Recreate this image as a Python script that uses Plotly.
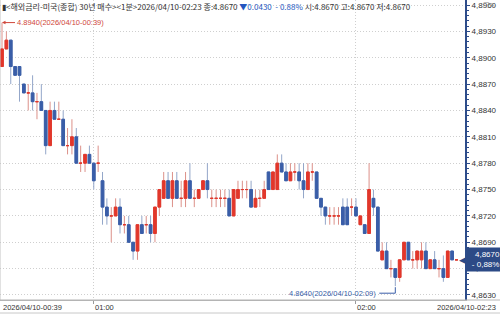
import pandas as pd
import numpy as np
import plotly.graph_objects as go

# ---------------- data ----------------
opens = [4.889, 4.891, 4.892, 4.889, 4.889, 4.887, 4.886, 4.886, 4.885, 4.885,
         4.884, 4.880, 4.884, 4.883, 4.883, 4.880, 4.880, 4.881, 4.878, 4.878,
         4.879, 4.878, 4.878, 4.876, 4.873, 4.872, 4.872, 4.873, 4.871, 4.871,
         4.869, 4.868, 4.871, 4.871, 4.871, 4.870, 4.873, 4.874, 4.876, 4.874,
         4.876, 4.874, 4.874, 4.876, 4.874, 4.874, 4.875, 4.876, 4.874, 4.874,
         4.874, 4.874, 4.874, 4.872, 4.874, 4.875, 4.875, 4.875, 4.873, 4.874,
         4.874, 4.877, 4.875, 4.875, 4.878, 4.877, 4.876, 4.877, 4.877, 4.876,
         4.875, 4.877, 4.877, 4.874, 4.873, 4.872, 4.872, 4.872, 4.873, 4.873,
         4.873, 4.873, 4.871, 4.871, 4.870, 4.874, 4.873, 4.867, 4.868, 4.866,
         4.866, 4.865, 4.867, 4.869, 4.867, 4.867, 4.867, 4.868, 4.866, 4.867,
         4.866, 4.866, 4.865, 4.868, 4.867]
highs = [4.894, 4.893, 4.892, 4.889, 4.889, 4.887, 4.887, 4.888, 4.886, 4.887,
         4.884, 4.885, 4.885, 4.885, 4.884, 4.882, 4.883, 4.882, 4.880, 4.879,
         4.880, 4.878, 4.880, 4.877, 4.874, 4.873, 4.874, 4.874, 4.872, 4.872,
         4.869, 4.871, 4.872, 4.872, 4.872, 4.873, 4.875, 4.877, 4.877, 4.877,
         4.877, 4.876, 4.877, 4.878, 4.875, 4.875, 4.876, 4.878, 4.875, 4.875,
         4.875, 4.875, 4.875, 4.875, 4.876, 4.876, 4.876, 4.876, 4.875, 4.875,
         4.876, 4.877, 4.877, 4.879, 4.879, 4.878, 4.878, 4.878, 4.878, 4.878,
         4.878, 4.878, 4.877, 4.874, 4.873, 4.873, 4.873, 4.873, 4.874, 4.874,
         4.874, 4.874, 4.872, 4.871, 4.878, 4.875, 4.873, 4.869, 4.869, 4.867,
         4.866, 4.867, 4.869, 4.869, 4.868, 4.868, 4.869, 4.869, 4.867, 4.868,
         4.867, 4.8675, 4.868, 4.868, 4.867]
lows = [4.889, 4.891, 4.887, 4.888, 4.885, 4.886, 4.884, 4.884, 4.883, 4.884,
        4.879, 4.880, 4.883, 4.883, 4.880, 4.879, 4.879, 4.878, 4.877, 4.877,
        4.878, 4.875, 4.877, 4.871, 4.871, 4.869, 4.872, 4.870, 4.870, 4.869,
        4.867, 4.867, 4.870, 4.870, 4.869, 4.869, 4.872, 4.874, 4.874, 4.873,
        4.874, 4.873, 4.873, 4.874, 4.873, 4.874, 4.875, 4.874, 4.873, 4.873,
        4.873, 4.873, 4.872, 4.872, 4.874, 4.874, 4.874, 4.873, 4.873, 4.873,
        4.874, 4.875, 4.875, 4.875, 4.877, 4.876, 4.876, 4.876, 4.875, 4.874,
        4.875, 4.876, 4.874, 4.872, 4.871, 4.871, 4.871, 4.871, 4.871, 4.871,
        4.872, 4.872, 4.871, 4.870, 4.870, 4.872, 4.868, 4.867, 4.866, 4.865,
        4.864, 4.8645, 4.867, 4.867, 4.866, 4.866, 4.866, 4.866, 4.866, 4.866,
        4.865, 4.8645, 4.865, 4.867, 4.867]
closes = [4.891, 4.892, 4.889, 4.888, 4.888, 4.886, 4.886, 4.885, 4.885, 4.884,
          4.880, 4.884, 4.883, 4.883, 4.880, 4.880, 4.881, 4.878, 4.878, 4.879,
          4.878, 4.876, 4.878, 4.873, 4.872, 4.872, 4.873, 4.871, 4.871, 4.869,
          4.868, 4.871, 4.870, 4.871, 4.870, 4.873, 4.875, 4.876, 4.874, 4.876,
          4.874, 4.874, 4.876, 4.874, 4.874, 4.875, 4.876, 4.875, 4.874, 4.874,
          4.874, 4.874, 4.872, 4.875, 4.875, 4.875, 4.875, 4.873, 4.874, 4.874,
          4.875, 4.875, 4.877, 4.878, 4.877, 4.876, 4.877, 4.877, 4.876, 4.875,
          4.877, 4.877, 4.874, 4.873, 4.872, 4.872, 4.872, 4.872, 4.871, 4.871,
          4.873, 4.872, 4.872, 4.870, 4.875, 4.873, 4.868, 4.868, 4.866, 4.866,
          4.865, 4.867, 4.869, 4.867, 4.867, 4.868, 4.868, 4.866, 4.867, 4.866,
          4.866, 4.865, 4.868, 4.867, 4.867]
start_time = "2026-04-10 00:39"
change_abs = -0.0430
change_pct = -0.88
y_tick_values = [4.8630, 4.8660, 4.8690, 4.8720, 4.8750, 4.8780,
                 4.8810, 4.8840, 4.8870, 4.8900, 4.8930, 4.8960]
x_grid_times = ["2026-04-10 01:00", "2026-04-10 02:00"]
x_grid_labels = ["01:00", "02:00"]
title_name = "해외금리-미국(종합) 30년 매수"
interval_name = "1분"

# ---------------- styling ----------------
RED = "#e2372b"
BLUE = "#3a5ea8"
RED_WICK = "#dc9089"
BLUE_WICK = "#93a6c9"
AXIS_BLUE = "#2d4c8a"
GRID = "#cfcfcf"
FONT = "Noto Sans CJK KR"
NUMF = "Liberation Sans"

times = pd.date_range(start_time, periods=len(opens), freq="min")
o = np.array(opens); h = np.array(highs); l = np.array(lows); c = np.array(closes)
up = c >= o

fig = go.Figure()


def add_candles(mask, body_color, wick_color):
    x = times[mask]
    # wicks (full range, light colour)
    fig.add_trace(go.Candlestick(
        x=x, open=o[mask], high=h[mask], low=l[mask], close=c[mask],
        increasing=dict(line=dict(color=wick_color, width=1), fillcolor=wick_color),
        decreasing=dict(line=dict(color=wick_color, width=1), fillcolor=wick_color),
        whiskerwidth=0, showlegend=False, hoverinfo="skip"))
    # bodies (solid colour)
    fig.add_trace(go.Candlestick(
        x=x, open=o[mask], high=np.maximum(o, c)[mask], low=np.minimum(o, c)[mask],
        close=c[mask],
        increasing=dict(line=dict(color=body_color, width=1), fillcolor=body_color),
        decreasing=dict(line=dict(color=body_color, width=1), fillcolor=body_color),
        whiskerwidth=0, showlegend=False, hoverinfo="skip"))


add_candles(up, RED, RED_WICK)
add_candles(~up, BLUE, BLUE_WICK)

step = pd.Timedelta(minutes=1)
x_range = [times[0] - 0.46 * step, times[0] + 105.95 * step]
y_range = [4.86243, 4.89657]

fig.update_layout(
    width=500, height=314,
    margin=dict(l=0, r=35, t=0, b=14),
    paper_bgcolor="white", plot_bgcolor="white",
    separators=",.",
    boxgap=0.22, boxgroupgap=0.22,
    font=dict(family=FONT, size=9, color="#444"),
    xaxis=dict(
        type="date", range=x_range, rangeslider=dict(visible=False),
        tickmode="array", tickvals=pd.to_datetime(x_grid_times),
        showticklabels=False, ticks="outside", ticklen=3, tickcolor="#9a9a9a",
        showgrid=True, gridcolor=GRID, griddash="1px,2px", gridwidth=1,
        showline=True, linecolor="#b4b4b4", linewidth=1, zeroline=False,
    ),
    yaxis=dict(
        side="right", range=y_range,
        tickmode="array", tickvals=y_tick_values,
        ticktext=[f"{v:.4f}".replace(".", ",") for v in y_tick_values],
        ticks="outside", ticklen=3, tickcolor=AXIS_BLUE,
        showline=True, linecolor=AXIS_BLUE, linewidth=2,
        showgrid=True, gridcolor=GRID, griddash="1px,2px", gridwidth=1,
        zeroline=False,
        tickfont=dict(family=NUMF, size=8, color="#333"),
        minor=dict(tickmode="linear", tick0=4.8630, dtick=0.0006,
                   ticks="outside", ticklen=2, tickcolor=AXIS_BLUE, showgrid=False),
    ),
)

# left border and bottom label strip
fig.add_shape(type="line", xref="paper", yref="paper", x0=0, x1=0, y0=0, y1=1,
              line=dict(color="#c4c4c4", width=1))
fig.add_shape(type="line", xref="paper", yref="paper", x0=0, x1=500 / 465,
              y0=0, y1=0, line=dict(color="#b4b4b4", width=1))
fig.add_shape(type="line", xref="paper", yref="paper", x0=0, x1=500 / 465,
              y0=-13 / 300, y1=-13 / 300, line=dict(color="#c8c8c8", width=1))

# x labels
lab_font = dict(family=NUMF, size=7.5, color="#333")
fig.add_annotation(xref="paper", yref="paper", x=0, y=0, yanchor="top", xanchor="left",
                   xshift=1, yshift=-1, showarrow=False,
                   text=f"{times[0]:%Y/%m/%d-%H:%M}", font=lab_font)
for t, lab in zip(x_grid_times, x_grid_labels):
    fig.add_annotation(xref="x", yref="paper", x=pd.Timestamp(t), y=0, yanchor="top",
                       xanchor="left", xshift=-1, yshift=-1, showarrow=False,
                       text=lab, font=lab_font)
fig.add_annotation(xref="paper", yref="paper", x=498 / 465, y=0, yanchor="top",
                   xanchor="right", yshift=-1, showarrow=False,
                   text=f"{times[-1]:%Y/%m/%d-%H:%M}", font=lab_font)

# header line
last = closes[-1]
header = (f"▮<{title_name}><{interval_name}>{times[-1]:%Y/%m/%d-%H:%M} 종:{last:.4f} "
          f"<span style='color:#2456c0'>▼{abs(change_abs):.4f}  - {abs(change_pct):.2f}%</span>"
          f" 시:{opens[-1]:.4f} 고:{highs[-1]:.4f} 저:{lows[-1]:.4f}")
fig.add_annotation(xref="paper", yref="paper", x=0, y=1, xanchor="left", yanchor="top",
                   yshift=1, showarrow=False, text=header,
                   font=dict(family=FONT, size=8, color="#333"))
fig.add_annotation(xref="paper", yref="paper", x=497 / 465, y=1, xanchor="right",
                   yanchor="top", yshift=1, showarrow=False, text="□×",
                   font=dict(family="DejaVu Sans", size=7, color="#888"))

# high / low markers
ann_font = dict(family=NUMF, size=7.5)
imax = int(np.argmax(h))
imin = int(np.argmin(l))
fig.add_annotation(x=times[imax], y=h[imax], ax=13, ay=0, axref="pixel", ayref="pixel",
                   showarrow=True, arrowhead=2, arrowsize=0.7, arrowwidth=1,
                   arrowcolor="#d0463a", xanchor="left",
                   text=f"{h[imax]:.4f}({times[imax]:%Y/%m/%d-%H:%M})",
                   font=dict(ann_font, color="#d0463a"))
fig.add_annotation(x=times[imin], y=l[imin], xanchor="right", xshift=-17, yshift=-7,
                   showarrow=False,
                   text=f"{l[imin]:.4f}({times[imin]:%Y/%m/%d-%H:%M})",
                   font=dict(ann_font, color="#3a5ea8"))
fig.add_shape(type="line", xref="x", yref="y", xsizemode="pixel", ysizemode="pixel",
              xanchor=times[imin], yanchor=l[imin], x0=-16, x1=0, y0=-7, y1=-7,
              line=dict(color="#3a5ea8", width=1))
fig.add_shape(type="line", xref="x", yref="y", xsizemode="pixel", ysizemode="pixel",
              xanchor=times[imin], yanchor=l[imin], x0=0, x1=0, y0=-7, y1=-1,
              line=dict(color="#3a5ea8", width=1))

# current price tag
fig.add_annotation(xref="paper", yref="y", x=1, y=last, xanchor="left", xshift=1,
                   showarrow=False, align="right",
                   text=f"{last:.4f}".replace(".", ",") + f"<br>- {abs(change_pct):.2f}%".replace(".", ","),
                   bgcolor="#2c4a86", borderpad=2, width=31,
                   font=dict(family=NUMF, size=8, color="white"))
fig.add_annotation(xref="paper", yref="y", x=1, y=last, xanchor="right", xshift=3,
                   showarrow=False, text="◀",
                   font=dict(family="DejaVu Sans", size=9, color="#2c4a86"))

fig.write_html("out.html")
